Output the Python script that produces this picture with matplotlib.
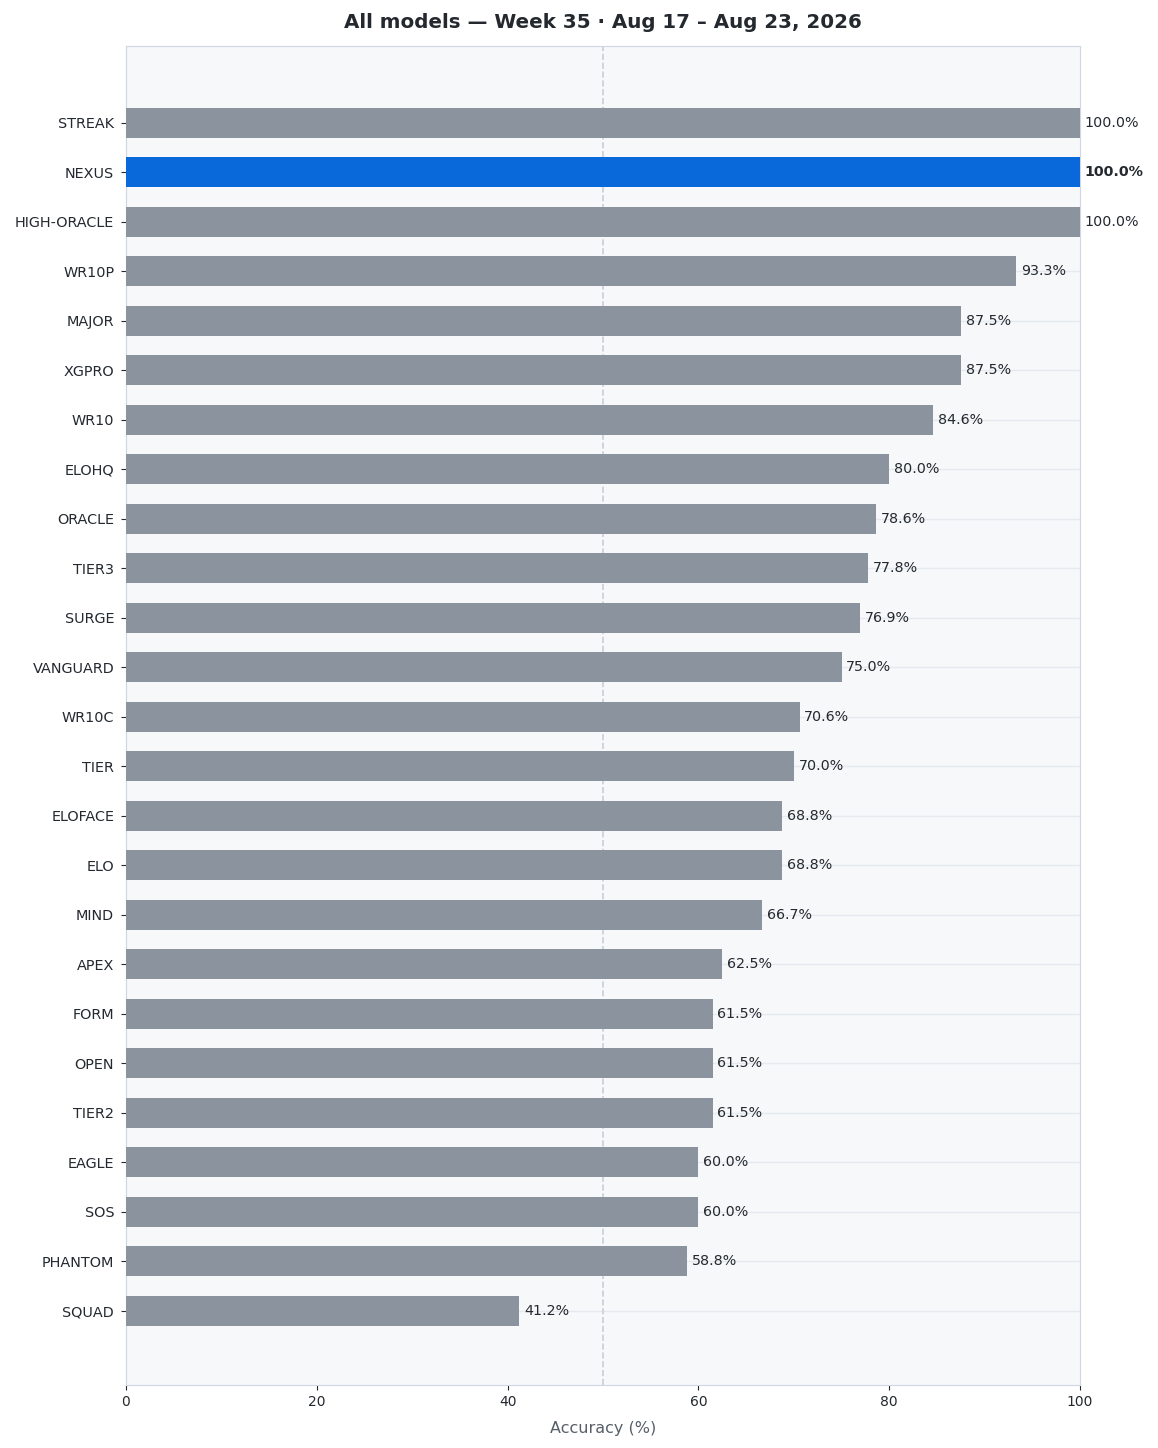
import numpy as np
import matplotlib.pyplot as plt

models = ['STREAK', 'NEXUS', 'HIGH-ORACLE', 'WR10P', 'MAJOR', 'XGPRO', 'WR10',
          'ELOHQ', 'ORACLE', 'TIER3', 'SURGE', 'VANGUARD', 'WR10C', 'TIER',
          'ELOFACE', 'ELO', 'MIND', 'APEX', 'FORM', 'OPEN', 'TIER2', 'EAGLE',
          'SOS', 'PHANTOM', 'SQUAD']
accuracy = [100.0, 100.0, 100.0, 93.3, 87.5, 87.5, 84.6, 80.0, 78.6, 77.8,
            76.9, 75.0, 70.6, 70.0, 68.8, 68.8, 66.7, 62.5, 61.5, 61.5, 61.5,
            60.0, 60.0, 58.8, 41.2]
highlight = 'NEXUS'

text_color = '#24292f'
grey_bar = '#8b939e'
blue_bar = '#0969da'
edge = '#d0d7e2'

fig = plt.figure(figsize=(11.58, 14.48), dpi=100)
ax = fig.add_axes([126/1158, 1 - 1385/1448, (1080-126)/1158, (1385-46)/1448])
ax.set_facecolor('#f6f8fa')

y = np.arange(len(models))
colors = [blue_bar if m == highlight else grey_bar for m in models]
ax.barh(y, accuracy, height=0.6, color=colors, zorder=3)

for yi, m, v in zip(y, models, accuracy):
    ax.text(v + 0.5, yi, f'{v:.1f}%', va='center', ha='left', fontsize=10.3,
            color=text_color, fontweight='bold' if m == highlight else 'normal',
            zorder=4, clip_on=False)

ax.axvline(50, color='#c8cfd8', linestyle='--', linewidth=1.2, zorder=2)
ax.set_yticks(y)
ax.set_yticklabels(models)
ax.grid(axis='y', color='#e6e9ee', linewidth=1, zorder=1)
ax.set_xlim(0, 100)
ax.set_ylim(25.5, -1.55)
ax.set_xticks([0, 20, 40, 60, 80, 100])
ax.tick_params(labelsize=10, colors=text_color)
ax.tick_params(axis='y', labelsize=10.4, pad=5)
for s in ax.spines.values():
    s.set_color(edge)
ax.set_xlabel('Accuracy (%)', fontsize=11.5, color='#57606a', labelpad=9)
ax.set_title('All models — Week 35 · Aug 17 – Aug 23, 2026', fontsize=14.3,
             fontweight='bold', color=text_color, pad=13)

fig.savefig('out.png', dpi=100, facecolor='white')
